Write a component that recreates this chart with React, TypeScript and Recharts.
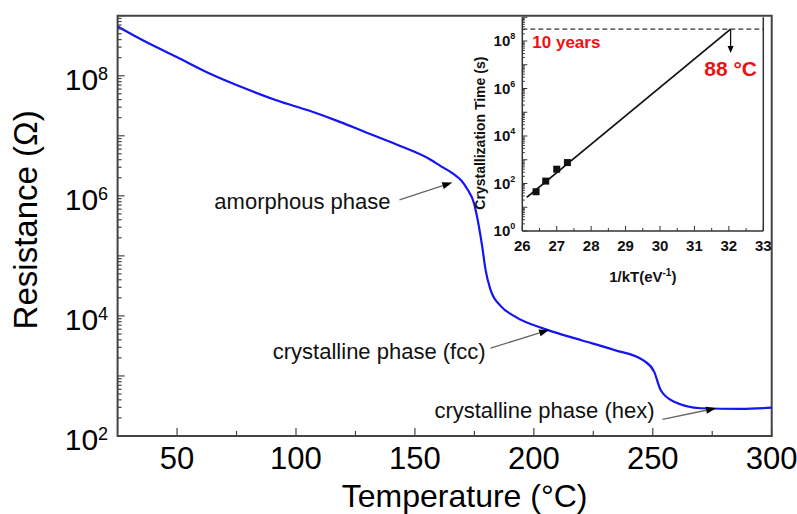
import { ComposedChart, Line, Scatter, XAxis, YAxis, ReferenceLine, ReferenceArea, Label } from 'recharts'

const FONT = '"Liberation Sans", Arial, Helvetica, sans-serif'

// resistance vs. temperature sweep
const temperature = [25, 35.8, 49.9, 63.9, 77.9, 92.0, 106.0, 118.7, 128.5, 142.5, 156.6, 161.0, 166.0, 169.5, 172.0, 174.8, 175.5, 176.9, 178.3, 179.7, 181.8, 186.0, 191.6, 205.7, 219.7, 233.8, 246.4, 250.6, 253.3, 259.0, 270.2, 287.1, 300]
const resistance = [6.64e8, 3.87e8, 2.05e8, 1.08e8, 6.3e7, 3.87e7, 2.58e7, 1.69e7, 1.18e7, 7.1e6, 4.0e6, 3.1e6, 2.35e6, 1.8e6, 1.3e6, 7.6e5, 5.85e5, 3.08e5, 1.43e5, 5.85e4, 2.71e4, 1.47e4, 1.0e4, 5.85e3, 3.98e3, 2.71e3, 1.78e3, 1.17e3, 585, 373, 290, 282, 296]

const tempTicks = [50, 75, 100, 125, 150, 175, 200, 225, 250, 275, 300]
const tempLabelled = [50, 100, 150, 200, 250, 300]
const resDecades = [2, 3, 4, 5, 6, 7, 8, 9]
const resLabelled = [2, 4, 6, 8]

// phase annotations: [temperature, resistance] for arrow tail and head
const phaseNames = ['amorphous phase', 'crystalline phase (fcc)', 'crystalline phase (hex)']
const phaseTail = [[143.5, 8.6e5], [181.8, 2.9e3], [254.1, 190]]
const phaseHead = [[165.7, 1.67e6], [206.4, 5.85e3], [276.6, 290]]

// Arrhenius inset
const invKT = [26.4, 26.68, 27.0, 27.31]
const crystTime = [45, 126, 400, 760]
const fitInvKT = [26.13, 32.05]
const fitTime = [26, 3.15e8]
const tenYears = 3.15e8
const arrowDown = 3.1e7
const insetTicks = [26, 27, 28, 29, 30, 31, 32, 33]
const insetDecades = [0, 1, 2, 3, 4, 5, 6, 7, 8, 9]
const insetLabelled = [0, 2, 4, 6, 8]

const sweep = temperature.map((t, i) => ({ t, r: resistance[i] }))
const points = invKT.map((x, i) => ({ x, t: crystTime[i] }))
const fit = fitInvKT.map((x, i) => ({ x, t: fitTime[i] }))

const logTicks = (decades: number[]) => {
  const out: number[] = []
  decades.forEach((d, i) => {
    const top = i === decades.length - 1 ? 1 : 9
    for (let m = 1; m <= top; m++) out.push(m * Math.pow(10, d))
  })
  return out
}
const mainYTicks = logTicks(resDecades)
const insetYTicks = logTicks(insetDecades)
const insetXTicks = insetTicks.flatMap((v, i) => (i < insetTicks.length - 1 ? [v, v + 0.5] : [v]))

const decadeOf = (v: number) => {
  const e = Math.log10(v)
  return Math.abs(e - Math.round(e)) < 1e-6 ? Math.round(e) : null
}

// ticks point into the plot; labels sit outside
function MainYTick({ x, y, payload }: any) {
  const e = decadeOf(payload.value)
  return (
    <g>
      <line x1={x} x2={x + (e !== null ? 7 : 4)} y1={y} y2={y} stroke="#444" strokeWidth={1.2} />
      {e !== null && resLabelled.includes(e) && (
        <text x={x - 9.5} y={y + 14} textAnchor="end" fontSize={30} fill="#000" fontFamily={FONT}>
          10<tspan dy={-10} fontSize={18}>{e}</tspan>
        </text>
      )}
    </g>
  )
}

function MainXTick({ x, y, payload }: any) {
  const v = payload.value
  const major = tempLabelled.includes(v)
  return (
    <g>
      <line x1={x} x2={x} y1={y} y2={y - (major ? 8 : 5)} stroke="#444" strokeWidth={1.2} />
      {major && (
        <text x={x} y={y + 33} textAnchor="middle" fontSize={31} fill="#000" fontFamily={FONT}>
          {v}
        </text>
      )}
    </g>
  )
}

function InsetYTick({ x, y, payload }: any) {
  const e = decadeOf(payload.value)
  return (
    <g>
      <line x1={x} x2={x + (e !== null ? 5 : 2.5)} y1={y} y2={y} stroke="#333" strokeWidth={1} />
      {e !== null && insetLabelled.includes(e) && (
        <text x={x - 7} y={y + 5} textAnchor="end" fontSize={15} fontWeight="bold" fill="#111" fontFamily={FONT}>
          10<tspan dy={-7} fontSize={9}>{e}</tspan>
        </text>
      )}
    </g>
  )
}

function InsetXTick({ x, y, payload }: any) {
  const v = payload.value
  const major = Number.isInteger(v)
  return (
    <g>
      <line x1={x} x2={x} y1={y} y2={y - (major ? 5 : 3)} stroke="#333" strokeWidth={1} />
      {major && (
        <text x={x} y={y + 19.5} textAnchor="middle" fontSize={15} fontWeight="bold" fill="#111" fontFamily={FONT}>
          {v}
        </text>
      )}
    </g>
  )
}

type ArrowProps = {
  x1?: number; y1?: number; x2?: number; y2?: number
  text?: string; at?: 'tail' | 'head'; dx?: number; dy?: number
  anchor?: 'start' | 'middle' | 'end'; textStyle?: any
  lineColor?: string; head?: number; half?: number
}

function Arrow({ x1, y1, x2, y2, text, at = 'tail', dx = 0, dy = 0, anchor = 'end', textStyle, lineColor = '#666', head = 10, half = 3.5 }: ArrowProps) {
  if (![x1, y1, x2, y2].every((n) => Number.isFinite(n))) return null
  const ax = x1 as number, ay = y1 as number, bx0 = x2 as number, by0 = y2 as number
  const a = Math.atan2(by0 - ay, bx0 - ax)
  const c = Math.cos(a)
  const s = Math.sin(a)
  const bx = bx0 - head * c
  const by = by0 - head * s
  const pts = `${bx0},${by0} ${bx - half * s},${by + half * c} ${bx + half * s},${by - half * c}`
  const tx = (at === 'tail' ? ax : bx0) + dx
  const ty = (at === 'tail' ? ay : by0) + dy
  return (
    <g>
      <line x1={ax} y1={ay} x2={bx} y2={by} stroke={lineColor} strokeWidth={1.3} />
      <polygon points={pts} fill="#000" />
      {text && (
        <text x={tx} y={ty} textAnchor={anchor} fontFamily={FONT} {...textStyle}>
          {text}
        </text>
      )}
    </g>
  )
}

const noteOffsets = [
  { dx: -9, dy: 9 },
  { dx: -5, dy: 11 },
  { dx: -8, dy: -1.5 },
]

export default function App() {
  return (
    <div style={{ position: 'absolute', left: 0, top: 0, width: 797, height: 514, background: '#fff' }}>
      <ComposedChart width={797} height={514} data={sweep} margin={{ top: 15.7, right: 25.3, bottom: 0, left: 7.6 }}>
        <XAxis
          dataKey="t"
          type="number"
          domain={[25, 300]}
          ticks={tempTicks}
          interval={0}
          height={78}
          axisLine={false}
          tickLine={false}
          tickSize={0}
          tickMargin={0}
          tick={<MainXTick />}
        >
          <Label
            content={({ viewBox }: any) => (
              <text x={viewBox.x + viewBox.width / 2 + 20} y={viewBox.y + 71} textAnchor="middle" fontSize={32} fill="#000" fontFamily={FONT}>
                Temperature (°C)
              </text>
            )}
          />
        </XAxis>
        <YAxis
          type="number"
          scale="log"
          domain={[1e2, 1e9]}
          allowDataOverflow
          ticks={mainYTicks}
          interval={0}
          width={110}
          axisLine={false}
          tickLine={false}
          tickSize={0}
          tickMargin={0}
          tick={<MainYTick />}
        >
          <Label
            content={({ viewBox }: any) => {
              const cx = viewBox.x + viewBox.width - 80.6
              const cy = viewBox.y + viewBox.height / 2 - 6
              return (
                <text x={cx} y={cy} transform={`rotate(-90 ${cx} ${cy})`} textAnchor="middle" fontSize={33} fill="#000" fontFamily={FONT}>
                  Resistance (Ω)
                </text>
              )
            }}
          />
        </YAxis>
        <ReferenceArea x1={25} x2={300} y1={1e2} y2={1e9} fill="none" fillOpacity={0} stroke="#444" strokeWidth={2} />
        <Line type="monotone" dataKey="r" stroke="#1414f5" strokeWidth={2.2} dot={false} isAnimationActive={false} />
        {phaseNames.map((name, i) => (
          <ReferenceLine
            key={name}
            segment={[
              { x: phaseTail[i][0], y: phaseTail[i][1] },
              { x: phaseHead[i][0], y: phaseHead[i][1] },
            ]}
            shape={(p: any) => (
              <Arrow {...p} text={name} dx={noteOffsets[i].dx} dy={noteOffsets[i].dy} textStyle={{ fontSize: 22, fill: '#111' }} />
            )}
          />
        ))}
      </ComposedChart>

      <div style={{ position: 'absolute', left: 0, top: 0, pointerEvents: 'none' }}>
        <ComposedChart width={797} height={514} margin={{ top: 17.25, right: 33.7, bottom: 223, left: 462.3 }}>
          <XAxis
            dataKey="x"
            type="number"
            domain={[26, 33]}
            ticks={insetXTicks}
            interval={0}
            height={60}
            axisLine={{ stroke: '#333', strokeWidth: 1.5 }}
            tickLine={false}
            tickSize={0}
            tickMargin={0}
            tick={<InsetXTick />}
          >
            <Label
              content={({ viewBox }: any) => (
                <text x={viewBox.x + viewBox.width / 2} y={viewBox.y + 51} textAnchor="middle" fontSize={15} fontWeight="bold" fill="#111" fontFamily={FONT}>
                  1/kT(eV<tspan dy={-6} fontSize={10}>-1</tspan><tspan dy={6}>)</tspan>
                </text>
              )}
            />
          </XAxis>
          <YAxis
            dataKey="t"
            type="number"
            scale="log"
            domain={[1, 1e9]}
            allowDataOverflow
            ticks={insetYTicks}
            interval={0}
            width={60}
            axisLine={{ stroke: '#333', strokeWidth: 1.5 }}
            tickLine={false}
            tickSize={0}
            tickMargin={0}
            tick={<InsetYTick />}
          >
            <Label
              content={({ viewBox }: any) => {
                const cx = viewBox.x + viewBox.width - 37
                const cy = viewBox.y + viewBox.height / 2 + 9
                return (
                  <text x={cx} y={cy} transform={`rotate(-90 ${cx} ${cy})`} textAnchor="middle" fontSize={14} fontWeight="bold" fill="#111" fontFamily={FONT}>
                    Crystallization Time (s)
                  </text>
                )
              }}
            />
          </YAxis>
          <ReferenceLine x={33} stroke="#333" strokeWidth={1.5} />
          <ReferenceLine y={tenYears} stroke="#333" strokeWidth={1.3} strokeDasharray="5 3">
            <Label
              content={({ viewBox }: any) => (
                <text x={viewBox.x + 10} y={viewBox.y + 19} fontSize={17} fontWeight="bold" fill="#ee1111" fontFamily={FONT}>
                  10 years
                </text>
              )}
            />
          </ReferenceLine>
          <Line data={fit} type="linear" dataKey="t" stroke="#111" strokeWidth={1.8} dot={false} isAnimationActive={false} />
          <Scatter
            data={points}
            dataKey="t"
            fill="#111"
            isAnimationActive={false}
            shape={(p: any) => <rect x={p.cx - 3.5} y={p.cy - 3.5} width={7} height={7} fill="#111" />}
          />
          <ReferenceLine
            segment={[
              { x: fitInvKT[1], y: tenYears },
              { x: fitInvKT[1], y: arrowDown },
            ]}
            shape={(p: any) => (
              <Arrow
                {...p}
                lineColor="#111"
                head={7}
                half={3}
                text="88 °C"
                at="head"
                anchor="middle"
                dy={23}
                textStyle={{ fontSize: 21, fontWeight: 'bold', fill: '#ee1111' }}
              />
            )}
          />
        </ComposedChart>
      </div>
    </div>
  )
}
